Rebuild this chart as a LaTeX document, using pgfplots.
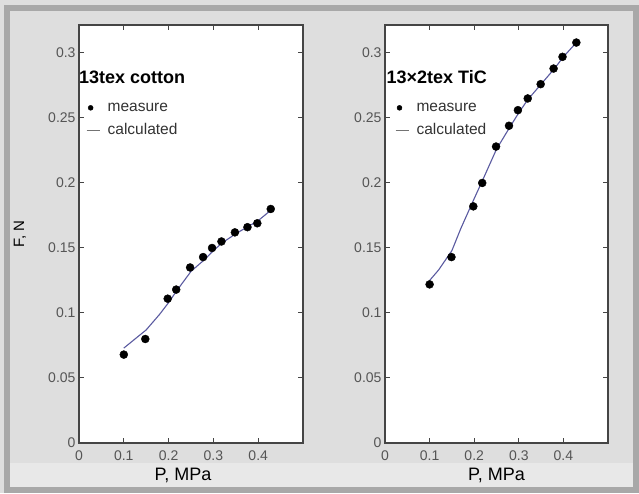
\documentclass[border=0pt]{standalone}
\usepackage{fontspec}
\setmainfont{Liberation Sans}
\usepackage{pgfplots}
\pgfplotsset{compat=1.18}
\definecolor{bgray}{HTML}{DEDEDE}
\definecolor{bstrip}{HTML}{E8E8E8}
\definecolor{framegray}{HTML}{A8A8A8}
\definecolor{calcblue}{HTML}{5A5AA0}
\definecolor{axgray}{HTML}{454545}
\definecolor{lblgray}{HTML}{555555}

\pgfplotsset{
  panel/.style={
    scale only axis, height=418pt,
    xmin=0, xmax=0.5, ymin=0, ymax=0.3215,
    xtick={0,0.1,0.2,0.3,0.4}, xticklabels={0,0.1,0.2,0.3,0.4},
    ytick={0,0.05,0.1,0.15,0.2,0.25,0.3},
    yticklabels={0,0.05,0.1,0.15,0.2,0.25,0.3},
    tick align=inside, major tick length=5pt,
    axis line style={draw=axgray, line width=1.3pt},
    every tick/.style={draw=axgray, line width=1pt},
    tick label style={font=\fontsize{14}{14}\selectfont, text=lblgray},
    xticklabel style={yshift=-4pt},
    axis background/.style={fill=white},
    xlabel={P, MPa},
    xlabel style={font=\fontsize{18}{18}\selectfont, at={(axis description cs:0.5,0)}, anchor=center, yshift=-32pt},
    clip=false,
    legend cell align=left,
    legend style={draw=none, fill=none, anchor=north west, inner sep=0pt,
      font=\fontsize{15.5}{15.5}\selectfont, row sep=9pt,
      nodes={inner sep=1pt, text=black!80}},
  },
  meas/.style={only marks, mark=*, mark size=4pt, black,
    legend image code/.code={\path[draw=none, fill=none] (0pt,0pt) -- (20pt,0pt); \fill[black] (4pt,0pt) circle (2.5pt);}},
  calcline/.style={calcblue, line width=1.1pt, mark=none,
    legend image code/.code={\path[draw=none, fill=none] (0pt,0pt) -- (20pt,0pt); \draw[line width=1pt, black!55] (0pt,0pt) -- (13pt,0pt);}},
}

\begin{document}
\begin{tikzpicture}
\fill[bgray] (0pt,0pt) rectangle (639pt,493pt);
\fill[bstrip] (10pt,6pt) rectangle (633pt,30pt);
\draw[framegray, line width=6pt] (6.5pt,3pt) rectangle (636pt,485pt);

% left panel: 13tex cotton
\begin{axis}[panel, width=224pt, at={(79pt,50pt)}, anchor=south west,
  xlabel style={xshift=-8pt},
  ylabel={F, N},
  ylabel style={font=\fontsize{15}{15}\selectfont, at={(axis description cs:0,0.5)}, anchor=center, yshift=59pt},
  legend style={at={(axis cs:0.0155,0.2625)}}]
  \addplot[meas] coordinates {(0.1,0.068)(0.148,0.080)(0.198,0.111)(0.217,0.118)(0.248,0.135)(0.277,0.143)(0.297,0.150)(0.318,0.155)(0.348,0.162)(0.376,0.166)(0.398,0.169)(0.428,0.180)};
  \addplot[calcline] coordinates {(0.1,0.073)(0.15,0.087)(0.18,0.099)(0.2,0.108)(0.22,0.118)(0.25,0.132)(0.28,0.141)(0.3,0.148)(0.32,0.154)(0.35,0.161)(0.38,0.167)(0.4,0.171)(0.428,0.179)};
  \legend{measure, calculated}
  \node[anchor=west, inner sep=0pt, font=\bfseries\fontsize{18}{18}\selectfont] at (axis cs:0.0,0.2815) {13tex cotton};
\end{axis}

% right panel: 13x2tex TiC
\begin{axis}[panel, width=223pt, at={(385pt,50pt)}, anchor=south west,
  legend style={at={(axis cs:0.022,0.2625)}}]
  \addplot[meas] coordinates {(0.1,0.122)(0.149,0.143)(0.198,0.182)(0.218,0.200)(0.249,0.228)(0.278,0.244)(0.298,0.256)(0.32,0.265)(0.349,0.276)(0.378,0.288)(0.398,0.297)(0.429,0.308)};
  \addplot[calcline] coordinates {(0.1,0.125)(0.12,0.133)(0.15,0.148)(0.17,0.165)(0.2,0.188)(0.22,0.203)(0.25,0.226)(0.28,0.243)(0.3,0.254)(0.32,0.264)(0.35,0.276)(0.38,0.288)(0.4,0.297)(0.429,0.308)};
  \legend{measure, calculated}
  \node[anchor=west, inner sep=0pt, font=\bfseries\fontsize{18}{18}\selectfont] at (axis cs:0.003,0.2815) {13×2tex TiC};
\end{axis}
\end{tikzpicture}
\end{document}
